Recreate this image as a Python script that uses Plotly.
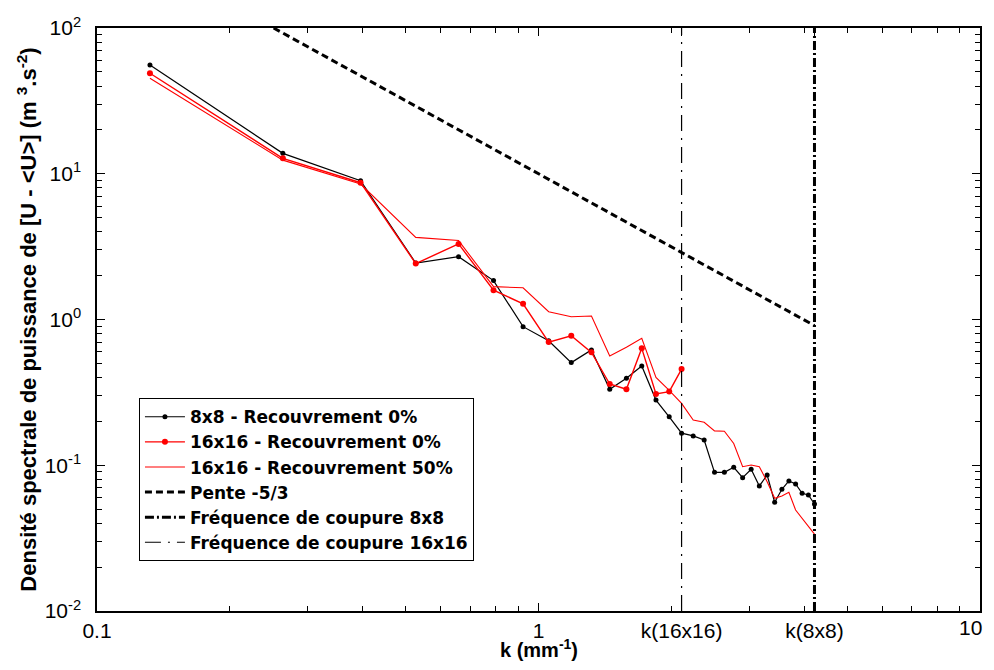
import plotly.graph_objects as go

# wavenumbers k (mm^-1)
k_8x8 = [0.1318, 0.2636, 0.3954, 0.5272, 0.6591, 0.7909, 0.9227, 1.0545, 1.1863, 1.3181,
         1.4499, 1.5817, 1.7135, 1.8453, 1.9772, 2.1090, 2.2408, 2.3726, 2.5044, 2.6362,
         2.7680, 2.8998, 3.0316, 3.1634, 3.2953, 3.4271, 3.5589, 3.6907, 3.8225, 3.9543,
         4.0861, 4.2179]
psd_8x8 = [55.8, 13.8, 8.96, 2.44, 2.70, 1.85, 0.893, 0.715, 0.506, 0.618,
           0.332, 0.395, 0.480, 0.280, 0.215, 0.166, 0.159, 0.149, 0.0894, 0.0894,
           0.0968, 0.0822, 0.0938, 0.0721, 0.0857, 0.0557, 0.0684, 0.078, 0.0744, 0.0642,
           0.0625, 0.0542]

k_16x16 = [0.1318, 0.2636, 0.3954, 0.5272, 0.6591, 0.7909, 0.9227, 1.0545, 1.1863, 1.3181,
           1.4499, 1.5817, 1.7135, 1.8453, 1.9772, 2.1090]
psd_16x16 = [48.9, 12.76, 8.68, 2.42, 3.30, 1.59, 1.28, 0.70, 0.774, 0.595,
             0.361, 0.332, 0.634, 0.308, 0.320, 0.457]

k_16x16_50 = k_8x8
psd_16x16_50 = [45.2, 12.4, 8.5, 3.66, 3.48, 1.68, 1.65, 1.13, 1.045, 1.057,
                0.562, 0.645, 0.743, 0.40, 0.326, 0.266, 0.204, 0.197, 0.172, 0.171,
                0.141, 0.0977, 0.1004, 0.0977, 0.0771, 0.0593, 0.0616, 0.0652, 0.0493, 0.0432,
                0.0379, 0.0337]

pente_k = [0.2512, 4.218]
pente_y = [100.0, 0.908]

kc_8x8 = 4.218
kc_16x16 = 2.109
cut_y = [0.01, 100]

x_tickvals = [0.1, 1, kc_16x16, kc_8x8, 10]
x_ticktext = ["0.1", "1", "k(16x16)", "k(8x8)", ""]
x_last_label = "10"
y_tickvals = [0.01, 0.1, 1, 10, 100]
y_ticktext = ["10<sup>-2</sup>", "10<sup>-1</sup>", "10<sup>0</sup>", "10<sup>1</sup>", "10<sup>2</sup>"]

x_minor = [m * d for d in (0.1, 1) for m in range(2, 10)]
y_minor = [m * d for d in (0.01, 0.1, 1, 10) for m in range(2, 10)]

fig = go.Figure()
fig.add_trace(go.Scatter(x=k_8x8, y=psd_8x8, mode="lines+markers",
                         name="8x8 - Recouvrement 0%",
                         line=dict(color="black", width=1.2),
                         marker=dict(color="black", size=5)))
fig.add_trace(go.Scatter(x=k_16x16, y=psd_16x16, mode="lines+markers",
                         name="16x16 - Recouvrement 0%",
                         line=dict(color="#ff0000", width=1.4),
                         marker=dict(color="#ff0000", size=6)))
fig.add_trace(go.Scatter(x=k_16x16_50, y=psd_16x16_50, mode="lines",
                         name="16x16 - Recouvrement 50%",
                         line=dict(color="#ff0000", width=1.1)))
fig.add_trace(go.Scatter(x=pente_k, y=pente_y, mode="lines",
                         name="Pente -5/3",
                         line=dict(color="black", width=3, dash="7px,4px")))
fig.add_trace(go.Scatter(x=[kc_8x8, kc_8x8], y=cut_y, mode="lines",
                         name="Fréquence de coupure 8x8",
                         line=dict(color="black", width=3, dash="9px,3px,2px,3px")))
fig.add_trace(go.Scatter(x=[kc_16x16, kc_16x16], y=cut_y, mode="lines",
                         name="Fréquence de coupure 16x16",
                         line=dict(color="black", width=1.2, dash="16px,7px,2px,7px")))

tickfont = dict(family="Liberation Sans, Arial, sans-serif", size=21, color="black")
titlefont = dict(family="Liberation Sans, Arial, sans-serif", size=22, color="black")

# the page body has an 8px margin on every side: the figure is 978x654 so that the
# whole page is exactly 994x670
fig.update_layout(
    width=978, height=654,
    margin=dict(l=89, r=4, t=20, b=51),
    paper_bgcolor="white", plot_bgcolor="white",
    showlegend=True,
    legend=dict(x=0.0475, y=0.365, xanchor="left", yanchor="top",
                bgcolor="white", bordercolor="black", borderwidth=1,
                font=dict(family="DejaVu Sans, sans-serif", size=17, color="black",
                          weight="bold"),
                tracegroupgap=0, itemwidth=40),
    xaxis=dict(type="log", range=[-1, 1], showgrid=False, zeroline=False,
               showline=True, linecolor="black", linewidth=1.5, mirror="ticks",
               ticks="inside", ticklen=8, tickcolor="black",
               tickmode="array", tickvals=x_tickvals, ticktext=x_ticktext,
               tickfont=tickfont,
               minor=dict(ticks="inside", ticklen=5, tickcolor="black",
                          tickmode="array", tickvals=x_minor, showgrid=False)),
    yaxis=dict(type="log", range=[-2, 2], showgrid=False, zeroline=False,
               showline=True, linecolor="black", linewidth=1.5, mirror="ticks",
               ticks="inside", ticklen=8, tickcolor="black",
               tickmode="array", tickvals=y_tickvals, ticktext=y_ticktext,
               tickfont=tickfont, ticklabelstandoff=10,
               minor=dict(ticks="inside", ticklen=5, tickcolor="black",
                          tickmode="array", tickvals=y_minor, showgrid=False),
               title=dict(text="<b>Densité spectrale de puissance de [U - &lt;U&gt;] (m <sup>3</sup>.s<sup>-2</sup>)</b>",
                          font=titlefont, standoff=2)),
    annotations=[
        dict(text="<b>k (mm<sup>-1</sup>)</b>", xref="paper", yref="paper",
             x=0.5, y=-0.0875, xanchor="center", yanchor="bottom", showarrow=False,
             borderpad=0,
             font=dict(family="Liberation Sans, Arial, sans-serif", size=20, color="black")),
        dict(text=x_last_label, xref="paper", yref="paper",
             x=1.005, y=0, xanchor="right", yanchor="top", yshift=-3, showarrow=False,
             font=tickfont),
    ],
)

fig.write_html("out.html")
